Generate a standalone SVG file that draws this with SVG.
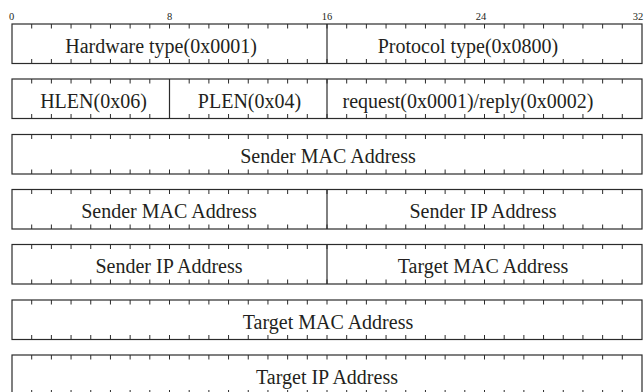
<svg xmlns="http://www.w3.org/2000/svg" xmlns:xlink="http://www.w3.org/1999/xlink" width="644" height="392" viewBox="0 0 644 392">
  <style>
    .box { fill: #ffffff; stroke: #2b2b2b; stroke-width: 1.2; }
    .div { stroke: #2b2b2b; stroke-width: 1.2; fill: none; }
    .tick { stroke: #2b2b2b; stroke-width: 1; fill: none; }
    .lbl { font-family: "Liberation Serif", "Times New Roman", serif; font-size: 20px; fill: #231f20; text-anchor: middle; }
    .bit { font-family: "Liberation Serif", "Times New Roman", serif; font-size: 10.5px; fill: #231f20; text-anchor: middle; }
  </style>
  <defs>
    <!-- one tick per bit, hanging down from a row's top edge -->
    <path id="topTicks" class="tick" d="M31.69 0v4.5M51.38 0v4.5M71.06 0v4.5M90.75 0v4.5M110.44 0v4.5M130.13 0v4.5M149.81 0v4.5M169.5 0v4.5M189.19 0v4.5M208.88 0v4.5M228.56 0v4.5M248.25 0v4.5M267.94 0v4.5M287.63 0v4.5M307.31 0v4.5M327 0v4.5M346.69 0v4.5M366.38 0v4.5M386.06 0v4.5M405.75 0v4.5M425.44 0v4.5M445.13 0v4.5M464.81 0v4.5M484.5 0v4.5M504.19 0v4.5M523.88 0v4.5M543.56 0v4.5M563.25 0v4.5M582.94 0v4.5M602.63 0v4.5M622.31 0v4.5"/>
    <!-- same ticks rising from a row's bottom edge -->
    <path id="botTicks" class="tick" d="M31.69 0v-4.5M51.38 0v-4.5M71.06 0v-4.5M90.75 0v-4.5M110.44 0v-4.5M130.13 0v-4.5M149.81 0v-4.5M169.5 0v-4.5M189.19 0v-4.5M208.88 0v-4.5M228.56 0v-4.5M248.25 0v-4.5M267.94 0v-4.5M287.63 0v-4.5M307.31 0v-4.5M327 0v-4.5M346.69 0v-4.5M366.38 0v-4.5M386.06 0v-4.5M405.75 0v-4.5M425.44 0v-4.5M445.13 0v-4.5M464.81 0v-4.5M484.5 0v-4.5M504.19 0v-4.5M523.88 0v-4.5M543.56 0v-4.5M563.25 0v-4.5M582.94 0v-4.5M602.63 0v-4.5M622.31 0v-4.5"/>
  </defs>

  <!-- bit ruler -->
  <g id="ruler">
    <text class="bit" x="11.5" y="19.5">0</text>
    <text class="bit" x="169.5" y="19.5">8</text>
    <text class="bit" x="327" y="19.5">16</text>
    <text class="bit" x="481" y="19.5">24</text>
    <text class="bit" x="638" y="19.5">32</text>
  </g>

  <!-- row 1 -->
  <g id="row1">
    <rect class="box" x="12" y="24" width="630" height="39.5"/>
    <use xlink:href="#topTicks" y="24"/>
    <use xlink:href="#botTicks" y="63.5"/>
    <path class="div" d="M327 24V63.5"/>
    <text class="lbl" x="161" y="52.5">Hardware type(0x0001)</text>
    <text class="lbl" x="468" y="52.5">Protocol type(0x0800)</text>
  </g>

  <!-- row 2 -->
  <g id="row2">
    <rect class="box" x="12" y="79" width="630" height="39.5"/>
    <use xlink:href="#topTicks" y="79"/>
    <use xlink:href="#botTicks" y="118.5"/>
    <path class="div" d="M169.5 79V118.5M327 79V118.5"/>
    <text class="lbl" x="93.5" y="107.5">HLEN(0x06)</text>
    <text class="lbl" x="249.5" y="107.5">PLEN(0x04)</text>
    <text class="lbl" x="468" y="107.5">request(0x0001)/reply(0x0002)</text>
  </g>

  <!-- row 3 -->
  <g id="row3">
    <rect class="box" x="12" y="134.5" width="630" height="39.5"/>
    <use xlink:href="#topTicks" y="134.5"/>
    <use xlink:href="#botTicks" y="174"/>
    <text class="lbl" x="328" y="163">Sender MAC Address</text>
  </g>

  <!-- row 4 -->
  <g id="row4">
    <rect class="box" x="12" y="189.5" width="630" height="39.5"/>
    <use xlink:href="#topTicks" y="189.5"/>
    <use xlink:href="#botTicks" y="229"/>
    <path class="div" d="M327 189.5V229"/>
    <text class="lbl" x="169" y="218">Sender MAC Address</text>
    <text class="lbl" x="483" y="218">Sender IP Address</text>
  </g>

  <!-- row 5 -->
  <g id="row5">
    <rect class="box" x="12" y="244.5" width="630" height="39.5"/>
    <use xlink:href="#topTicks" y="244.5"/>
    <use xlink:href="#botTicks" y="284"/>
    <path class="div" d="M327 244.5V284"/>
    <text class="lbl" x="169" y="273">Sender IP Address</text>
    <text class="lbl" x="483" y="273">Target MAC Address</text>
  </g>

  <!-- row 6 -->
  <g id="row6">
    <rect class="box" x="12" y="300" width="630" height="39.5"/>
    <use xlink:href="#topTicks" y="300"/>
    <use xlink:href="#botTicks" y="339.5"/>
    <text class="lbl" x="328" y="328.5">Target MAC Address</text>
  </g>

  <!-- row 7 -->
  <g id="row7">
    <rect class="box" x="12" y="355" width="630" height="39.5"/>
    <use xlink:href="#topTicks" y="355"/>
    <use xlink:href="#botTicks" y="394.5"/>
    <text class="lbl" x="327" y="383.5">Target IP Address</text>
  </g>

  <g id="connectors"/>
</svg>
